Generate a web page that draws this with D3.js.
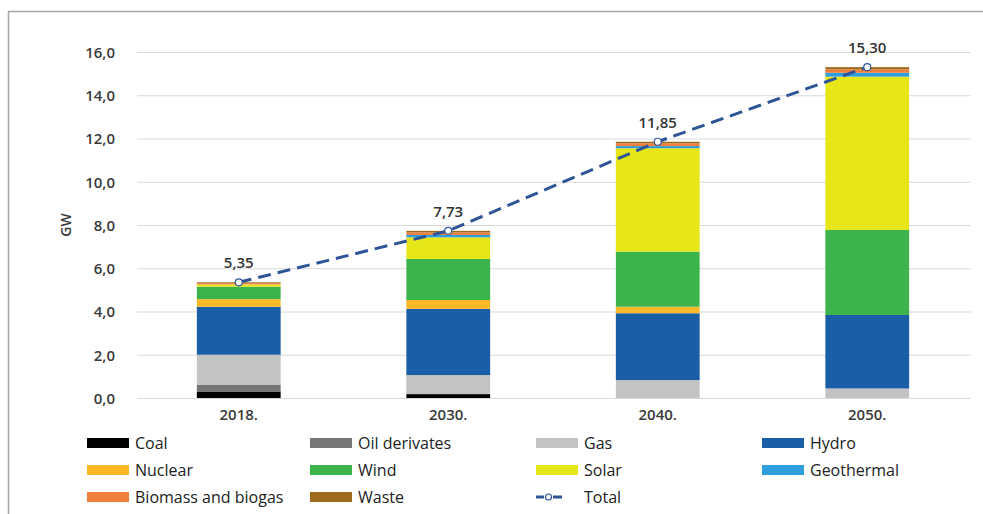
<!DOCTYPE html>
<html><head><meta charset="utf-8">
<script src="https://cdn.jsdelivr.net/npm/d3@7"></script>
<style>body{margin:0;background:#fff;} svg{display:block;font-family:"Open Sans","Noto Sans","Liberation Sans",sans-serif;}</style>
</head><body><svg id="c" width="983" height="514"></svg>
<script>
const years = ["2018.", "2030.", "2040.", "2050."];
const sources = ["Coal","Oil derivates","Gas","Hydro","Nuclear","Wind","Solar","Geothermal","Biomass and biogas","Waste"];
const colors = ["#000000","#767676","#c3c3c3","#1a5ea8","#fdb827","#3cb44b","#e6e619","#2e9fdc","#f07f3c","#9c6b1e"];
const coal = [0.30, 0.18, 0, 0];
const oil = [0.32, 0, 0, 0];
const gas = [1.38, 0.88, 0.83, 0.44];
const hydro = [2.22, 3.06, 3.09, 3.40];
const nuclear = [0.35, 0.41, 0.30, 0];
const wind = [0.58, 1.90, 2.55, 3.93];
const solar = [0.10, 1.00, 4.78, 7.09];
const geothermal = [0, 0.11, 0.10, 0.18];
const biomass = [0.06, 0.12, 0.13, 0.16];
const waste = [0.04, 0.07, 0.07, 0.10];
const totals = [5.35, 7.73, 11.85, 15.30];
const totalLabels = ["5,35", "7,73", "11,85", "15,30"];
const yTicks = [0,2,4,6,8,10,12,14,16];

const seriesVals = [coal, oil, gas, hydro, nuclear, wind, solar, geothermal, biomass, waste];
const rows = years.map((y,i)=>{const o={year:y}; sources.forEach((s,k)=>o[s]=seriesVals[k][i]); return o;});

const svg = d3.select("#c");
svg.append("path").attr("d","M8.5,514 L8.5,11.5 L983,11.5").attr("fill","none").attr("stroke","#a6a6a6").attr("stroke-width",1.5);

const x = d3.scaleBand().domain(years).range([134, 972]).paddingInner(0.6).paddingOuter(0.3);
const y = d3.scaleLinear().domain([0,16]).range([398, 52]);

svg.append("g").selectAll("line").data(yTicks).join("line")
  .attr("x1",137).attr("x2",971).attr("y1",d=>y(d)+0.5).attr("y2",d=>y(d)+0.5)
  .attr("stroke","#d9d9d9").attr("stroke-width",1);

const yAxis = svg.append("g").attr("transform","translate(118,0)")
  .call(d3.axisLeft(y).tickValues(yTicks).tickSize(0).tickFormat(d=>d3.format(".1f")(d).replace(".",",")));
yAxis.select(".domain").remove();
yAxis.selectAll("text").attr("font-size",15).attr("fill","#3a3a3a").attr("font-weight","600").attr("dx",0).attr("dy","0.35em").attr("font-family","'Open Sans',sans-serif");

svg.append("text").attr("transform","translate(66,225) rotate(-90)").attr("text-anchor","middle")
  .attr("dy","0.35em").attr("font-size",14).attr("fill","#3a3a3a").attr("font-weight","600").text("GW");

const stack = d3.stack().keys(sources)(rows);
svg.append("g").selectAll("g").data(stack).join("g").attr("fill",(d,i)=>colors[i])
  .selectAll("rect").data(d=>d).join("rect")
  .attr("x",d=>x(d.data.year)).attr("width",x.bandwidth())
  .attr("y",d=>y(d[1])).attr("height",d=>Math.max(0,y(d[0])-y(d[1])));

svg.append("line").attr("x1",137).attr("x2",971).attr("y1",398.5).attr("y2",398.5).attr("stroke","#d9d9d9");
const xAxis = svg.append("g").attr("transform","translate(0,398)").call(d3.axisBottom(x).tickSize(0));
xAxis.select(".domain").remove();
xAxis.selectAll("text").attr("font-size",15).attr("fill","#3a3a3a").attr("font-weight","600").attr("dy","1.25em").attr("font-family","'Open Sans',sans-serif");

const cx = d=>x(d)+x.bandwidth()/2;
const line = d3.line().x((d,i)=>cx(years[i])).y(d=>y(d));
svg.append("path").datum(totals).attr("d",line).attr("fill","none").attr("stroke","#2f5597")
  .attr("stroke-width",3).attr("stroke-dasharray","13,7");
svg.append("g").selectAll("circle").data(totals).join("circle")
  .attr("cx",(d,i)=>cx(years[i])).attr("cy",d=>y(d)).attr("r",3.5)
  .attr("fill","#fff").attr("stroke","#2f5597").attr("stroke-width",1.2);
svg.append("g").selectAll("text").data(totals).join("text")
  .attr("x",(d,i)=>cx(years[i])).attr("y",d=>y(d)-14).attr("text-anchor","middle")
  .attr("font-size",15).attr("fill","#333").attr("font-weight","600").text((d,i)=>totalLabels[i]);

const colX = [87, 310, 536, 762];
const rowY = [443, 470, 497];
const leg = svg.append("g");
sources.forEach((s,i)=>{
  const cxp = colX[i%4], cyp = rowY[Math.floor(i/4)];
  leg.append("rect").attr("x",cxp).attr("y",cyp-5).attr("width",42).attr("height",10).attr("fill",colors[i]);
  leg.append("text").attr("x",cxp+48).attr("y",cyp).attr("dy","0.35em").attr("font-size",16).attr("fill","#222").text(s);
});
const tx = colX[2], ty = rowY[2];
leg.append("line").attr("x1",tx).attr("x2",tx+8).attr("y1",ty).attr("y2",ty).attr("stroke","#2f5597").attr("stroke-width",3);
leg.append("line").attr("x1",tx+17).attr("x2",tx+26).attr("y1",ty).attr("y2",ty).attr("stroke","#2f5597").attr("stroke-width",3);
leg.append("circle").attr("cx",tx+12.5).attr("cy",ty).attr("r",3).attr("fill","#fff").attr("stroke","#2f5597").attr("stroke-width",1.2);
leg.append("text").attr("x",tx+48).attr("y",ty).attr("dy","0.35em").attr("font-size",16).attr("fill","#222").text("Total");
</script></body></html>
